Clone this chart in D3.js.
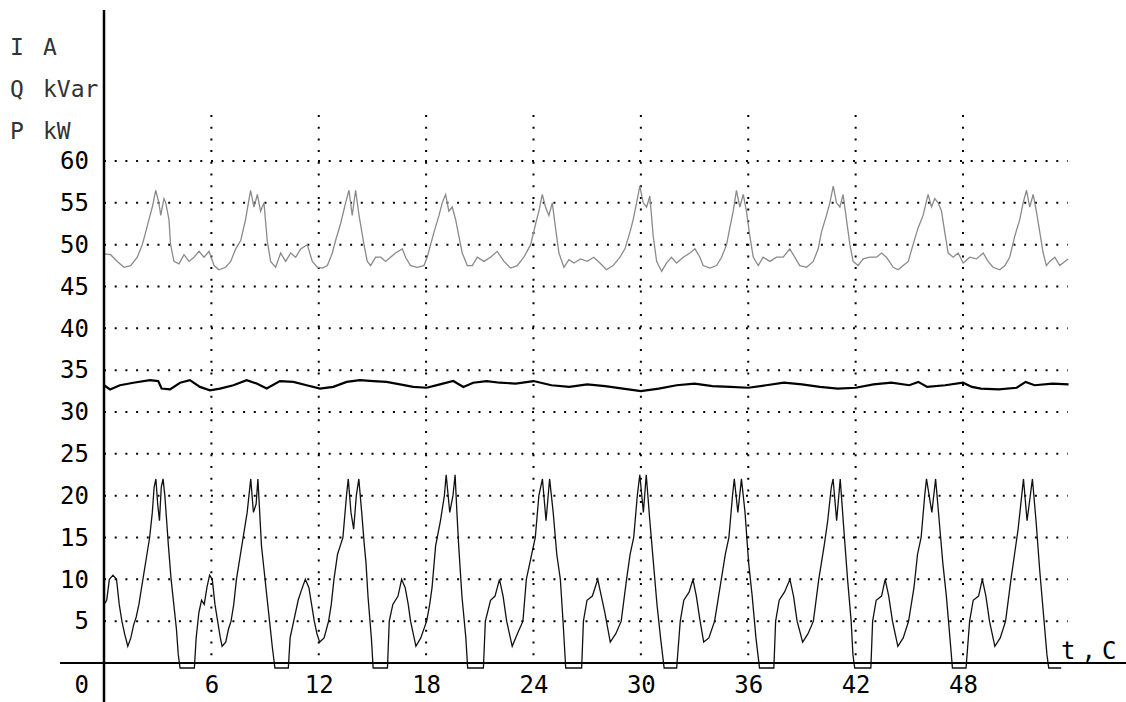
<!DOCTYPE html>
<meta charset="utf-8">
<style>
body { margin: 0; background: #fff; }
svg { display: block; font-family: "DejaVu Sans Mono", "Liberation Mono", monospace; }
.tick-label { font-size: 24px; fill: #000; }
.unit { font-size: 23px; fill: #333; }
.grid { stroke: #000; stroke-width: 2; fill: none; }
</style>
<body>
<script src="https://cdn.jsdelivr.net/npm/d3@7"></script>
<script>
var width = 1126,
    height = 702;

// tick values
var yTicks = [5, 10, 15, 20, 25, 30, 35, 40, 45, 50, 55, 60];
var xTicks = [6, 12, 18, 24, 30, 36, 42, 48];
var units = [["I", "A"], ["Q", "kVar"], ["P", "kW"]];

// upper trace (~48 with peaks)
var pSeries = [
  [0,48.9],[0.37,48.8],[0.74,48],[1.12,47.3],[1.49,47.5],[1.86,48.5],[2.14,50],[2.33,51.5],[2.51,53],[2.7,54.5],
  [2.89,56.5],[3.07,55],[3.17,53.5],[3.35,55.5],[3.45,55],[3.63,53],[3.72,50],[3.91,48],[4.19,47.7],[4.47,48.8],
  [4.75,48],[5.03,48.5],[5.31,49.2],[5.59,48.5],[5.87,49.2],[6.15,47.5],[6.42,47],[6.8,47.3],[7.08,48],[7.36,49.5],
  [7.64,50.5],[7.91,53],[8.19,56.5],[8.38,54.5],[8.57,56],[8.75,54],[8.94,55],[9.12,50.5],[9.31,48],[9.59,47.3],
  [9.87,49],[10.15,48],[10.43,49],[10.71,48.5],[10.99,49.5],[11.36,50],[11.64,48],[11.92,47.3],[12.2,47.2],[12.48,47.5],
  [12.76,49],[12.94,50.5],[13.22,52.5],[13.5,55],[13.69,56.5],[13.87,53.5],[14.06,56.5],[14.25,53.5],[14.53,50],[14.71,48],
  [14.9,47.5],[15.18,48.5],[15.46,48.5],[15.74,48],[16.01,48.5],[16.29,49],[16.67,49.5],[16.85,48.5],[17.13,47.5],[17.5,47.3],
  [17.88,47.5],[18.06,48.5],[18.25,50],[18.44,51.5],[18.72,53.5],[18.9,55],[19.09,56],[19.27,54],[19.46,54.5],[19.65,53],
  [19.83,51],[20.02,49],[20.3,47.5],[20.58,47.5],[20.86,48.5],[21.23,48],[21.6,48.5],[21.97,49.2],[22.35,48],[22.72,47.2],
  [23.09,47.5],[23.46,48.5],[23.84,50],[24.12,52.5],[24.3,54],[24.49,56],[24.67,54.5],[24.86,53.5],[25.05,55],[25.23,52],
  [25.42,49],[25.7,47.3],[25.98,48.2],[26.26,47.8],[26.63,48.3],[27,48],[27.37,48.5],[27.71,47.8],[28.08,47],[28.45,47.5],
  [28.83,48.5],[29.11,49.5],[29.39,51.5],[29.57,53],[29.76,55],[29.94,57],[30.13,55],[30.32,54.5],[30.5,55.8],[30.69,51],
  [30.88,48],[31.16,46.8],[31.43,47.8],[31.71,48.5],[31.99,47.8],[32.37,48.5],[32.74,49],[33.02,49.5],[33.3,48.5],[33.48,47.5],
  [33.86,47.2],[34.23,47.5],[34.51,48.5],[34.79,50],[34.97,52],[35.16,54],[35.34,56.5],[35.53,54.5],[35.72,56],[35.9,54],
  [36.09,51],[36.28,48.5],[36.56,47.5],[36.83,48.5],[37.21,48],[37.58,48.5],[37.95,48.5],[38.32,49.5],[38.6,48.5],[38.88,47.5],
  [39.26,47.3],[39.63,48],[39.91,49.5],[40.09,51.5],[40.37,53.5],[40.56,55],[40.75,57],[40.93,55],[41.12,54.5],[41.3,56],
  [41.49,53],[41.68,50],[41.86,48],[42.14,47.5],[42.42,48.3],[42.79,48.5],[43.17,48.5],[43.45,49],[43.72,48.5],[44.1,47.3],
  [44.38,47],[44.66,47.5],[44.94,48],[45.21,50],[45.49,52],[45.77,53.5],[46.05,56],[46.24,54.5],[46.42,55.5],[46.61,55],
  [46.8,54],[46.98,51.5],[47.17,49],[47.45,48.5],[47.73,49],[48.01,47.8],[48.38,48.5],[48.75,48.3],[49.13,49],[49.4,48],
  [49.68,47.3],[50.06,47],[50.34,47.5],[50.61,48.5],[50.89,51],[51.17,53],[51.36,55],[51.55,56.5],[51.73,54.5],[51.92,56],
  [52.1,54],[52.29,51.5],[52.48,49],[52.66,47.5],[52.85,48],[53.13,48.5],[53.41,47.5],[53.69,48],[53.87,48.3]
];

// middle trace (~33)
var qSeries = [
  [0,33.2],[0.34,32.7],[0.89,33.2],[1.64,33.5],[2.57,33.8],[3.03,33.7],[3.22,32.8],[3.69,32.7],[4.25,33.5],[4.8,33.8],
  [5.36,33],[5.92,32.6],[6.48,32.8],[7.23,33.2],[7.97,33.8],[8.53,33.4],[9.09,32.8],[9.83,33.7],[10.58,33.6],[11.32,33.2],
  [12.07,32.8],[12.81,33],[13.56,33.6],[14.3,33.8],[15.05,33.7],[15.79,33.6],[16.54,33.3],[17.28,33],[18.03,32.9],[18.77,33.3],
  [19.52,33.7],[20.08,33],[20.63,33.5],[21.38,33.7],[22.12,33.5],[23,33.4],[24,33.7],[25,33.2],[26,33],[27,33.3],
  [28,33.1],[29,32.8],[30,32.5],[31,32.8],[32,33.2],[33,33.4],[34,33.1],[35,33],[36,32.9],[37,33.2],
  [38,33.5],[39,33.3],[40,33],[41,32.8],[42,32.9],[43,33.3],[44,33.5],[45,33.2],[45.5,33.6],[46,33],
  [47,33.2],[48,33.5],[48.5,33],[49,32.8],[50,32.7],[51,32.9],[51.5,33.6],[52,33.2],[53,33.4],[53.9,33.3]
];

// lower trace (0..22)
var iSeries = [
  [0,7],[0.15,7.5],[0.3,10],[0.5,10.5],[0.7,10],[0.85,7],[1,5],[1.15,3.5],[1.33,2],[1.5,3],[1.65,4.5],[1.8,5.5],[1.95,7],
  [2.1,9],[2.25,11],[2.4,13],[2.55,15],[2.7,18],[2.8,21],[2.9,22],[3,19],[3.1,17],[3.2,21],[3.3,22],[3.4,20],[3.5,17],
  [3.6,14],[3.75,10],[3.9,7],[4.05,4],[4.15,1],[4.25,-0.6],[5.05,-0.6],
  [5.15,3],[5.3,6],[5.45,7.5],[5.6,7],[5.75,9],[5.9,10.5],[6.05,10],[6.2,7],[6.35,5],[6.5,3],[6.6,2],[6.8,2.5],[6.95,4],
  [7.1,5],[7.25,7],[7.4,10],[7.55,12],[7.7,14],[7.85,16],[8,18],[8.1,20],[8.2,22],[8.35,18],[8.5,19],[8.6,22],[8.7,18],
  [8.8,14],[8.95,11],[9.1,8],[9.25,5],[9.4,2],[9.55,-0.6],[10.3,-0.6],
  [10.4,3],[10.6,5],[10.85,7.5],[11,8.5],[11.25,10],[11.45,9],[11.6,7],[11.75,5],[11.9,3.5],[12.05,2.5],[12.3,3],[12.55,5],
  [12.7,7],[12.85,10],[13.05,13],[13.2,14],[13.35,15],[13.55,20],[13.65,22],[13.8,18],[13.95,16],[14.1,20],[14.24,22],
  [14.4,18],[14.55,14],[14.64,12],[14.75,8],[14.94,3],[15.04,-0.6],[15.84,-0.6],
  [15.94,5],[16.14,7],[16.43,8],[16.63,10],[16.83,9],[17,7],[17.13,5],[17.43,2],[17.7,3],[18.03,5],[18.2,7],[18.33,9],
  [18.53,14],[18.8,17],[19.02,20],[19.12,22.5],[19.32,18],[19.5,20],[19.62,22.5],[19.72,18],[19.82,14],[20,8],[20.22,3],
  [20.32,-0.6],[21.2,-0.6],
  [21.31,5],[21.6,7.5],[21.85,8],[22.1,10],[22.3,8],[22.5,5],[22.81,2],[23.1,3.5],[23.41,5],[23.6,10],[23.9,13],[24.1,15],
  [24.3,20],[24.5,22],[24.7,17],[24.9,22],[25.1,18],[25.3,13],[25.5,10],[25.65,5],[25.8,-0.6],[26.69,-0.6],
  [26.79,5],[26.99,7.5],[27.29,8],[27.59,10],[27.79,8],[27.99,6],[28.29,2.5],[28.6,3.5],[28.9,5],[29.2,10],[29.4,13],
  [29.6,15],[29.8,20],[29.94,22.5],[30.14,18],[30.3,22.5],[30.5,17],[30.7,12],[30.9,7],[31.1,3],[31.3,-0.6],[32,-0.6],
  [32.2,5],[32.4,7.5],[32.7,8.5],[32.91,10],[33.1,8],[33.31,5],[33.51,2.5],[33.8,3],[34.12,5],[34.42,9],[34.72,13],
  [34.92,15],[35.12,20],[35.22,22],[35.42,18],[35.62,22],[35.82,18],[36.02,12],[36.22,8],[36.43,3],[36.63,-0.6],[37.43,-0.6],
  [37.53,5],[37.73,7.5],[38.03,8.5],[38.33,10],[38.53,8],[38.73,5],[39.04,2.5],[39.34,3.5],[39.64,5],[39.94,10],[40.24,14],
  [40.44,17],[40.64,21],[40.74,22],[40.94,17],[41.14,22],[41.34,16],[41.55,10],[41.75,5],[41.85,1],[41.95,-0.6],[42.85,-0.6],
  [42.95,5],[43.15,7.5],[43.45,8],[43.65,10],[43.85,8],[44.06,5],[44.36,2],[44.66,3],[44.96,5],[45.26,9],[45.46,13],
  [45.66,15],[45.86,20],[45.96,22],[46.26,18],[46.47,22],[46.67,17],[46.87,12],[47.07,8],[47.27,3],[47.41,-0.6],[48.17,-0.6],
  [48.37,5],[48.57,7.5],[48.87,8],[49.08,10],[49.28,8],[49.48,5],[49.78,2],[50.08,3],[50.38,5],[50.68,10],[50.88,13],
  [51.08,16],[51.28,20],[51.38,22],[51.58,17],[51.88,22],[52.08,17],[52.29,11],[52.49,6],[52.69,1],[52.79,-0.6],[53.49,-0.6]
];

var gridEnd = 53.85,   // where the dotted rows stop (t)
    gridTop = 65.5;    // where the dotted columns start (value)

var x = d3.scaleLinear().domain([0, 48]).range([104, 963]);
var y = d3.scaleLinear().domain([0, 60]).range([663, 161]);

var svg = d3.select("body").append("svg")
  .attr("width", width)
  .attr("height", height);

// dotted grid
svg.append("g").selectAll("line")
  .data(yTicks)
  .enter().append("line")
    .attr("class", "grid")
    .attr("x1", x(0)).attr("x2", x(gridEnd))
    .attr("y1", function(d) { return y(d); })
    .attr("y2", function(d) { return y(d); })
    .attr("stroke-dasharray", "2,8.7");

svg.append("g").selectAll("line")
  .data(xTicks)
  .enter().append("line")
    .attr("class", "grid")
    .attr("x1", function(d) { return x(d); })
    .attr("x2", function(d) { return x(d); })
    .attr("y1", y(gridTop)).attr("y2", y(0))
    .attr("stroke-dasharray", "2,9.7");

// traces
var line = d3.line()
  .x(function(d) { return x(d[0]); })
  .y(function(d) { return y(d[1]); });

svg.append("path")
  .datum(pSeries)
  .attr("fill", "none")
  .attr("stroke", "#8a8a8a")
  .attr("stroke-width", 1.3)
  .attr("d", line);

svg.append("path")
  .datum(qSeries)
  .attr("fill", "none")
  .attr("stroke", "#000")
  .attr("stroke-width", 2.2)
  .attr("d", line);

svg.append("path")
  .datum(iSeries)
  .attr("fill", "none")
  .attr("stroke", "#111")
  .attr("stroke-width", 1.3)
  .attr("d", line);

// axes lines
svg.append("line")
  .attr("x1", x(0)).attr("x2", x(0))
  .attr("y1", 10).attr("y2", height)
  .attr("stroke", "#000").attr("stroke-width", 2.5);

svg.append("line")
  .attr("x1", 60).attr("x2", width)
  .attr("y1", y(0)).attr("y2", y(0))
  .attr("stroke", "#000").attr("stroke-width", 2);

// tick labels
var yAxis = svg.append("g")
  .attr("transform", "translate(" + x(0) + ",0)")
  .call(d3.axisLeft(y).tickValues(yTicks).tickSize(0).tickPadding(15));

var xAxis = svg.append("g")
  .attr("transform", "translate(0," + y(0) + ")")
  .call(d3.axisBottom(x).tickValues(xTicks).tickSize(0).tickPadding(13));

[yAxis, xAxis].forEach(function(a) {
  a.select(".domain").remove();
  a.attr("font-family", null).attr("font-size", null);
  a.selectAll("text").attr("class", "tick-label");
});

svg.append("text")
  .attr("class", "tick-label")
  .attr("x", x(0) - 15)
  .attr("y", 693)
  .attr("text-anchor", "end")
  .text("0");

svg.append("text")
  .attr("class", "tick-label")
  .attr("x", 1061)
  .attr("y", 659)
  .attr("font-size", "30px")
  .attr("letter-spacing", "6px")
  .text("t,C");

// unit labels
var ug = svg.append("g").selectAll("g")
  .data(units)
  .enter().append("g")
    .attr("transform", function(d, i) { return "translate(0," + (55 + i * 42) + ")"; });

ug.append("text")
  .attr("class", "unit")
  .attr("x", 10)
  .text(function(d) { return d[0]; });

ug.append("text")
  .attr("class", "unit")
  .attr("x", 43)
  .text(function(d) { return d[1]; });
</script>
</body>
